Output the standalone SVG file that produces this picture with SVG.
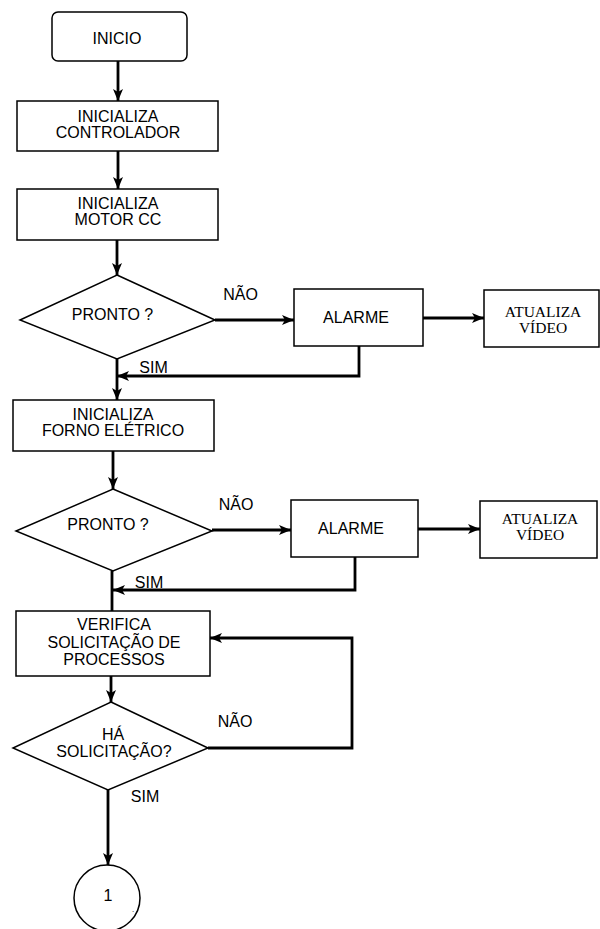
<svg xmlns="http://www.w3.org/2000/svg" width="600" height="929" viewBox="0 0 600 929">
  <style>
    .shape { fill: #ffffff; stroke: #000000; stroke-width: 1.5; }
    .conn { fill: none; stroke: #000000; stroke-width: 2.8; }
    .lbl { font-family: "Liberation Sans", Arial, sans-serif; font-size: 16px; fill: #000000; text-anchor: middle; }
    .serif { font-family: "Liberation Serif", "Times New Roman", serif; font-size: 15.5px; fill: #000000; text-anchor: middle; }
  </style>
  <defs>
    <marker id="arrow" markerUnits="userSpaceOnUse" markerWidth="13" markerHeight="10" refX="12" refY="5" orient="auto">
      <path d="M0,0 L12,5 L0,10 L3,5 z" fill="#000000"/>
    </marker>
  </defs>
  <rect width="600" height="929" fill="#ffffff"/>

  <!-- connectors -->
  <g id="connectors">
    <path class="conn" d="M118,61 V101" marker-end="url(#arrow)"/>
    <path class="conn" d="M118,151 V189" marker-end="url(#arrow)"/>
    <path class="conn" d="M117,240 V275" marker-end="url(#arrow)"/>
    <path class="conn" d="M215,320 H294" marker-end="url(#arrow)"/>
    <path class="conn" d="M423,318 H484" marker-end="url(#arrow)"/>
    <path class="conn" d="M359,346 V376 H117" marker-end="url(#arrow)"/>
    <path class="conn" d="M117,359 V400" marker-end="url(#arrow)"/>
    <path class="conn" d="M113,451 V489" marker-end="url(#arrow)"/>
    <path class="conn" d="M212,530 H291" marker-end="url(#arrow)"/>
    <path class="conn" d="M418,529 H480" marker-end="url(#arrow)"/>
    <path class="conn" d="M355,557 V590 H113" marker-end="url(#arrow)"/>
    <path class="conn" d="M112,571 V611"/>
    <path class="conn" d="M111,676 V702" marker-end="url(#arrow)"/>
    <path class="conn" d="M208,748 H352 V638 H210" marker-end="url(#arrow)"/>
    <path class="conn" d="M108,790 V865" marker-end="url(#arrow)"/>
    <text class="lbl" x="240.5" y="300">NÃO</text>
    <text class="lbl" x="153.5" y="373">SIM</text>
    <text class="lbl" x="236" y="510">NÃO</text>
    <text class="lbl" x="149" y="588">SIM</text>
    <text class="lbl" x="235" y="727">NÃO</text>
    <text class="lbl" x="145" y="802">SIM</text>
  </g>

  <g id="inicio">
    <rect class="shape" x="52" y="12" width="135" height="49" rx="6"/>
    <text class="lbl" x="117" y="44">INICIO</text>
  </g>

  <g id="inicializa-controlador">
    <rect class="shape" x="17" y="101" width="201" height="50"/>
    <text class="lbl" x="118" y="122">INICIALIZA</text>
    <text class="lbl" x="118" y="138">CONTROLADOR</text>
  </g>

  <g id="inicializa-motor">
    <rect class="shape" x="17" y="189" width="201" height="51"/>
    <text class="lbl" x="118" y="209">INICIALIZA</text>
    <text class="lbl" x="118" y="225">MOTOR CC</text>
  </g>

  <g id="pronto-1">
    <polygon class="shape" points="117,275 215,320 117,359 20,320"/>
    <text class="lbl" x="112.5" y="320">PRONTO ?</text>
  </g>

  <g id="alarme-1">
    <rect class="shape" x="294" y="289" width="129" height="57"/>
    <text class="lbl" x="356" y="323">ALARME</text>
  </g>

  <g id="atualiza-video-1">
    <rect class="shape" x="484" y="290" width="115" height="57"/>
    <text class="serif" x="543" y="317">ATUALIZA</text>
    <text class="serif" x="543" y="333">VÍDEO</text>
  </g>

  <g id="inicializa-forno">
    <rect class="shape" x="13" y="400" width="201" height="51"/>
    <text class="lbl" x="113" y="420">INICIALIZA</text>
    <text class="lbl" x="113" y="436">FORNO ELÉTRICO</text>
  </g>

  <g id="pronto-2">
    <polygon class="shape" points="113,489 212,531 113,571 16,531"/>
    <text class="lbl" x="108" y="530">PRONTO ?</text>
  </g>

  <g id="alarme-2">
    <rect class="shape" x="291" y="500" width="127" height="57"/>
    <text class="lbl" x="351" y="534">ALARME</text>
  </g>

  <g id="atualiza-video-2">
    <rect class="shape" x="480" y="501" width="117" height="57"/>
    <text class="serif" x="540" y="524">ATUALIZA</text>
    <text class="serif" x="540" y="540">VÍDEO</text>
  </g>

  <g id="verifica-solicitacao">
    <rect class="shape" x="16" y="611" width="194" height="65"/>
    <text class="lbl" x="114" y="630">VERIFICA</text>
    <text class="lbl" x="114" y="648">SOLICITAÇÃO DE</text>
    <text class="lbl" x="114" y="665">PROCESSOS</text>
  </g>

  <g id="ha-solicitacao">
    <polygon class="shape" points="111,702 208,748 108,790 13,748"/>
    <text class="lbl" x="113" y="740">HÁ</text>
    <text class="lbl" x="114" y="757">SOLICITAÇÃO?</text>
  </g>

  <g id="conector-1">
    <circle class="shape" cx="107" cy="898" r="33"/>
    <text class="lbl" x="108" y="901">1</text>
    <text class="lbl" x="133" y="912" style="font-size:8px">.</text>
  </g>
</svg>
